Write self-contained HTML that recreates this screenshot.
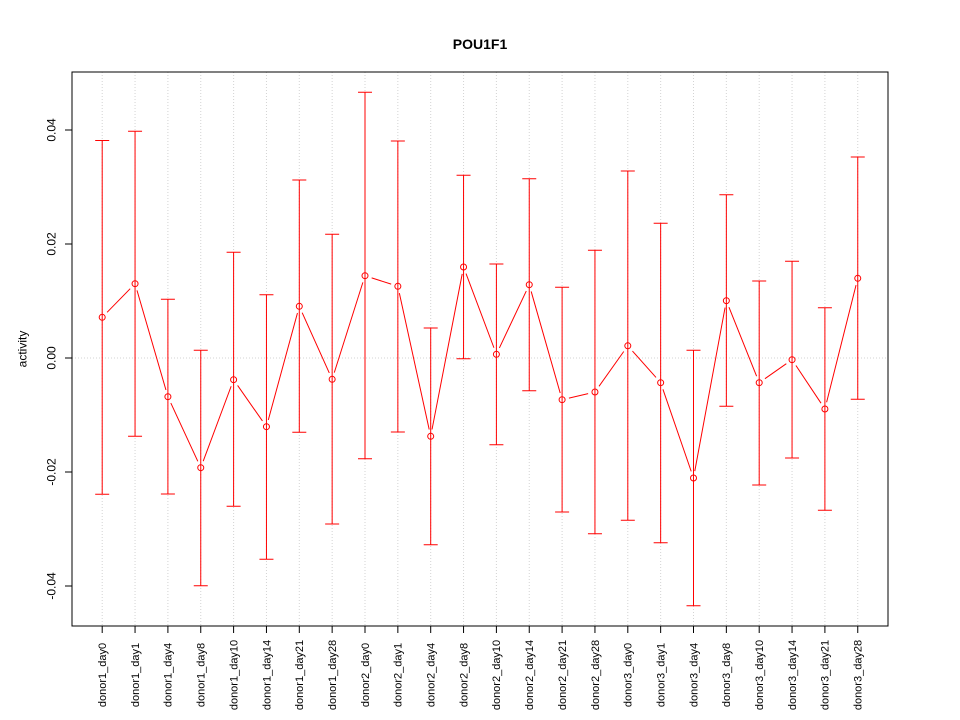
<!DOCTYPE html>
<html><head><meta charset="utf-8"><style>
html,body{margin:0;padding:0;background:#fff;}
svg{display:block;}
text{font-family:"Liberation Sans",Arial,sans-serif;fill:#000;}
</style></head><body>
<svg width="960" height="720" viewBox="0 0 960 720" xmlns="http://www.w3.org/2000/svg">
<rect width="960" height="720" fill="#fff"/>
<text x="480" y="49" font-size="14" font-weight="bold" text-anchor="middle">POU1F1</text>
<g stroke="#d3d3d3" stroke-width="1" stroke-dasharray="1 2" fill="none">
<line x1="72" y1="358" x2="888" y2="358"/>
<line x1="102.2" y1="72" x2="102.2" y2="626"/>
<line x1="135.05" y1="72" x2="135.05" y2="626"/>
<line x1="167.9" y1="72" x2="167.9" y2="626"/>
<line x1="200.75" y1="72" x2="200.75" y2="626"/>
<line x1="233.6" y1="72" x2="233.6" y2="626"/>
<line x1="266.45" y1="72" x2="266.45" y2="626"/>
<line x1="299.3" y1="72" x2="299.3" y2="626"/>
<line x1="332.15" y1="72" x2="332.15" y2="626"/>
<line x1="365" y1="72" x2="365" y2="626"/>
<line x1="397.85" y1="72" x2="397.85" y2="626"/>
<line x1="430.7" y1="72" x2="430.7" y2="626"/>
<line x1="463.55" y1="72" x2="463.55" y2="626"/>
<line x1="496.4" y1="72" x2="496.4" y2="626"/>
<line x1="529.25" y1="72" x2="529.25" y2="626"/>
<line x1="562.1" y1="72" x2="562.1" y2="626"/>
<line x1="594.95" y1="72" x2="594.95" y2="626"/>
<line x1="627.8" y1="72" x2="627.8" y2="626"/>
<line x1="660.65" y1="72" x2="660.65" y2="626"/>
<line x1="693.5" y1="72" x2="693.5" y2="626"/>
<line x1="726.35" y1="72" x2="726.35" y2="626"/>
<line x1="759.2" y1="72" x2="759.2" y2="626"/>
<line x1="792.05" y1="72" x2="792.05" y2="626"/>
<line x1="824.9" y1="72" x2="824.9" y2="626"/>
<line x1="857.75" y1="72" x2="857.75" y2="626"/>
</g>
<g stroke="#ff0000" stroke-width="1" fill="none">
<path d="M102.2 140.5V494.3M95.2 140.5H109.2M95.2 494.3H109.2"/>
<path d="M135.05 131.3V436.3M128.05 131.3H142.05M128.05 436.3H142.05"/>
<path d="M167.9 299.3V494M160.9 299.3H174.9M160.9 494H174.9"/>
<path d="M200.75 350.3V585.7M193.75 350.3H207.75M193.75 585.7H207.75"/>
<path d="M233.6 252.3V506.3M226.6 252.3H240.6M226.6 506.3H240.6"/>
<path d="M266.45 294.7V559.3M259.45 294.7H273.45M259.45 559.3H273.45"/>
<path d="M299.3 180V432.3M292.3 180H306.3M292.3 432.3H306.3"/>
<path d="M332.15 234.3V524M325.15 234.3H339.15M325.15 524H339.15"/>
<path d="M365 92.3V458.7M358 92.3H372M358 458.7H372"/>
<path d="M397.85 141V432M390.85 141H404.85M390.85 432H404.85"/>
<path d="M430.7 328V544.7M423.7 328H437.7M423.7 544.7H437.7"/>
<path d="M463.55 175.3V358.7M456.55 175.3H470.55M456.55 358.7H470.55"/>
<path d="M496.4 264V444.7M489.4 264H503.4M489.4 444.7H503.4"/>
<path d="M529.25 178.7V390.7M522.25 178.7H536.25M522.25 390.7H536.25"/>
<path d="M562.1 287.3V512M555.1 287.3H569.1M555.1 512H569.1"/>
<path d="M594.95 250.3V533.7M587.95 250.3H601.95M587.95 533.7H601.95"/>
<path d="M627.8 171V520.3M620.8 171H634.8M620.8 520.3H634.8"/>
<path d="M660.65 223.3V542.7M653.65 223.3H667.65M653.65 542.7H667.65"/>
<path d="M693.5 350.3V605.7M686.5 350.3H700.5M686.5 605.7H700.5"/>
<path d="M726.35 194.7V406.3M719.35 194.7H733.35M719.35 406.3H733.35"/>
<path d="M759.2 281V485M752.2 281H766.2M752.2 485H766.2"/>
<path d="M792.05 261.3V458M785.05 261.3H799.05M785.05 458H799.05"/>
<path d="M824.9 307.7V510.3M817.9 307.7H831.9M817.9 510.3H831.9"/>
<path d="M857.75 157V399.3M850.75 157H864.75M850.75 399.3H864.75"/>
</g>
<g stroke="#ff0000" stroke-width="1" fill="none">
<path d="M107.09 312.3L130.16 288.7M137 290.42L165.95 389.98M170.84 403.06L197.81 461.34M203.2 461.14L231.15 386.26M237.61 385.44L262.44 420.96M268.29 419.95L297.46 313.05M302.17 312.68L329.28 372.92M334.27 372.63L362.88 282.37M371.66 277.85L391.19 284.15M399.35 293.14L429.2 429.46M432.03 429.43L462.22 273.87M466.01 273.55L493.94 347.75M499.39 347.97L526.26 291.03M531.17 291.43L560.18 392.97M568.92 398.1L588.13 393.6M599.01 386.3L623.74 351.5M632.45 351.03L656 377.47M662.93 389.32L691.22 471.38M694.78 471.12L725.07 307.58M728.95 307.2L756.6 376.2M764.93 378.68L786.32 363.72M795.93 365.53L821.02 403.17M826.61 402.21L856.04 285.09"/>
</g>
<g stroke="#ff0000" stroke-width="1" fill="none">
<circle cx="102.2" cy="317.3" r="3"/>
<circle cx="135.05" cy="283.7" r="3"/>
<circle cx="167.9" cy="396.7" r="3"/>
<circle cx="200.75" cy="467.7" r="3"/>
<circle cx="233.6" cy="379.7" r="3"/>
<circle cx="266.45" cy="426.7" r="3"/>
<circle cx="299.3" cy="306.3" r="3"/>
<circle cx="332.15" cy="379.3" r="3"/>
<circle cx="365" cy="275.7" r="3"/>
<circle cx="397.85" cy="286.3" r="3"/>
<circle cx="430.7" cy="436.3" r="3"/>
<circle cx="463.55" cy="267" r="3"/>
<circle cx="496.4" cy="354.3" r="3"/>
<circle cx="529.25" cy="284.7" r="3"/>
<circle cx="562.1" cy="399.7" r="3"/>
<circle cx="594.95" cy="392" r="3"/>
<circle cx="627.8" cy="345.8" r="3"/>
<circle cx="660.65" cy="382.7" r="3"/>
<circle cx="693.5" cy="478" r="3"/>
<circle cx="726.35" cy="300.7" r="3"/>
<circle cx="759.2" cy="382.7" r="3"/>
<circle cx="792.05" cy="359.7" r="3"/>
<circle cx="824.9" cy="409" r="3"/>
<circle cx="857.75" cy="278.3" r="3"/>
</g>
<rect x="72" y="72" width="816" height="554" fill="none" stroke="#000" stroke-width="1"/>
<g stroke="#000" stroke-width="1">
<line x1="65" y1="130" x2="72" y2="130"/>
<line x1="65" y1="244" x2="72" y2="244"/>
<line x1="65" y1="358" x2="72" y2="358"/>
<line x1="65" y1="472" x2="72" y2="472"/>
<line x1="65" y1="586" x2="72" y2="586"/>
</g>
<g font-size="12" text-anchor="middle">
<text transform="translate(55.5,130) rotate(-90)">0.04</text>
<text transform="translate(55.5,244) rotate(-90)">0.02</text>
<text transform="translate(55.5,358) rotate(-90)">0.00</text>
<text transform="translate(55.5,472) rotate(-90)">-0.02</text>
<text transform="translate(55.5,586) rotate(-90)">-0.04</text>
<text transform="translate(26.5,349) rotate(-90)">activity</text>
</g>
<g stroke="#000" stroke-width="1">
<path d="M102.2 626V633M135.05 626V633M167.9 626V633M200.75 626V633M233.6 626V633M266.45 626V633M299.3 626V633M332.15 626V633M365 626V633M397.85 626V633M430.7 626V633M463.55 626V633M496.4 626V633M529.25 626V633M562.1 626V633M594.95 626V633M627.8 626V633M660.65 626V633M693.5 626V633M726.35 626V633M759.2 626V633M792.05 626V633M824.9 626V633M857.75 626V633"/>
</g>
<g font-size="11" text-anchor="middle">
<text transform="translate(106,675) rotate(-90)">donor1_day0</text>
<text transform="translate(138.85,675) rotate(-90)">donor1_day1</text>
<text transform="translate(171.7,675) rotate(-90)">donor1_day4</text>
<text transform="translate(204.55,675) rotate(-90)">donor1_day8</text>
<text transform="translate(237.4,675) rotate(-90)">donor1_day10</text>
<text transform="translate(270.25,675) rotate(-90)">donor1_day14</text>
<text transform="translate(303.1,675) rotate(-90)">donor1_day21</text>
<text transform="translate(335.95,675) rotate(-90)">donor1_day28</text>
<text transform="translate(368.8,675) rotate(-90)">donor2_day0</text>
<text transform="translate(401.65,675) rotate(-90)">donor2_day1</text>
<text transform="translate(434.5,675) rotate(-90)">donor2_day4</text>
<text transform="translate(467.35,675) rotate(-90)">donor2_day8</text>
<text transform="translate(500.2,675) rotate(-90)">donor2_day10</text>
<text transform="translate(533.05,675) rotate(-90)">donor2_day14</text>
<text transform="translate(565.9,675) rotate(-90)">donor2_day21</text>
<text transform="translate(598.75,675) rotate(-90)">donor2_day28</text>
<text transform="translate(631.6,675) rotate(-90)">donor3_day0</text>
<text transform="translate(664.45,675) rotate(-90)">donor3_day1</text>
<text transform="translate(697.3,675) rotate(-90)">donor3_day4</text>
<text transform="translate(730.15,675) rotate(-90)">donor3_day8</text>
<text transform="translate(763,675) rotate(-90)">donor3_day10</text>
<text transform="translate(795.85,675) rotate(-90)">donor3_day14</text>
<text transform="translate(828.7,675) rotate(-90)">donor3_day21</text>
<text transform="translate(861.55,675) rotate(-90)">donor3_day28</text>
</g>
</svg>
</body></html>
